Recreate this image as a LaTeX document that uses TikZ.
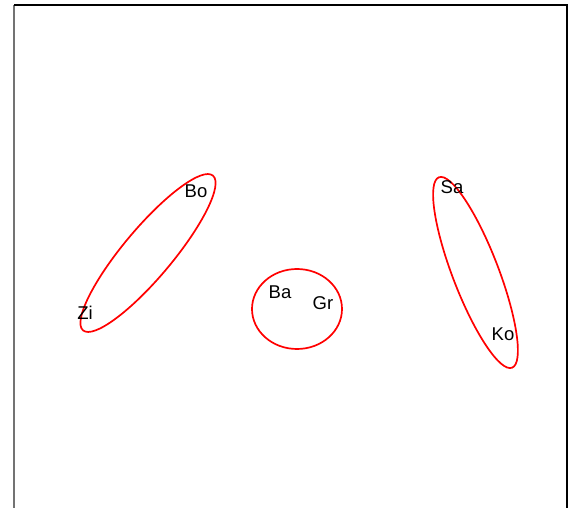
\documentclass[tikz,border=0pt]{standalone}
\usepackage{fontspec}
\setmainfont{Liberation Sans}
\begin{document}
\begin{tikzpicture}[x=1pt,y=-1pt,
  lbl/.style={anchor=base,inner sep=0pt,font=\fontsize{18.5}{22}\selectfont},
  grp/.style={draw=red,line width=1.7pt},
  frameL/.style={draw=black!55,line width=1.5pt},
  frameK/.style={draw=black,line width=1.2pt}]
\useasboundingbox (0,0) rectangle (574,508);
% frame
\coordinate (tl) at (14,5);
\coordinate (tr) at (567,5);
\coordinate (bl) at (14,508);
\coordinate (br) at (567,508);
\draw[frameL] (tl) -- (bl);
\draw[frameK] (tl) -- (tr) -- (br);
% groups
\coordinate (c1) at (148,253);
\coordinate (c2) at (297,309);
\coordinate (c3) at (475.5,272.5);
\draw[grp,rotate around={50:(c1)}] (c1) ellipse [x radius=101pt, y radius=24.5pt];
\draw[grp] (c2) ellipse [x radius=45pt, y radius=40pt];
\draw[grp,rotate around={-69:(c3)}] (c3) ellipse [x radius=102pt, y radius=23pt];
% labels
\node[lbl] (bo) at (196,197.5) {Bo};
\node[lbl] (zi) at (85,319.5) {Zi};
\node[lbl] (ba) at (280,299) {Ba};
\node[lbl] (gr) at (323,309) {Gr};
\node[lbl] (sa) at (452,193.5) {Sa};
\node[lbl] (ko) at (503,341) {Ko};
\end{tikzpicture}
\end{document}
